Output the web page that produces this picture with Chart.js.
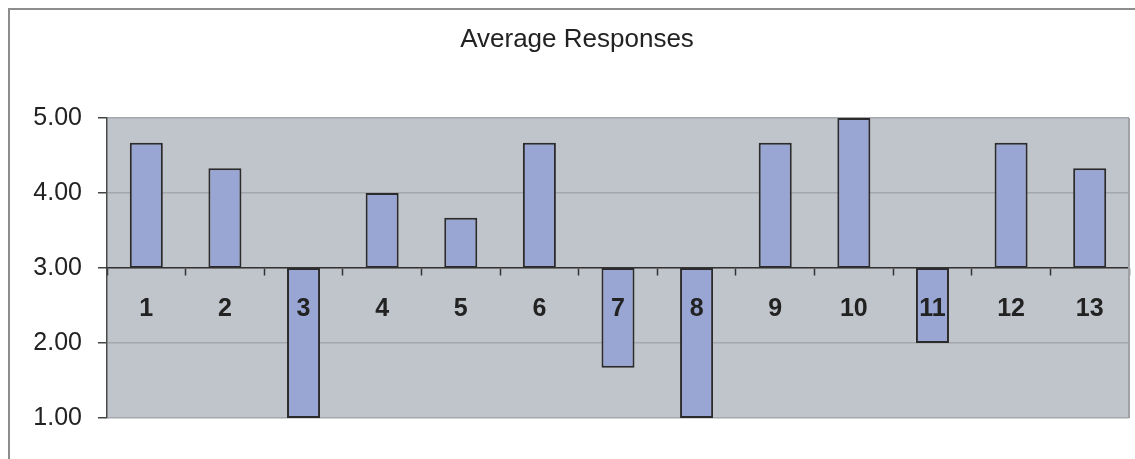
<!DOCTYPE html>
<html>
<head>
<meta charset="utf-8">
<script src="https://cdn.jsdelivr.net/npm/chart.js@4/dist/chart.umd.min.js"></script>
<style>
  html, body { margin: 0; padding: 0; background: #ffffff; }
  #wrap { width: 1135px; height: 459px; }
</style>
</head>
<body>
<div id="wrap"><canvas id="c" width="1135" height="459"></canvas></div>
<script>
// Question numbers and their average response scores
const questions = ['1', '2', '3', '4', '5', '6', '7', '8', '9', '10', '11', '12', '13'];
const averages = [4.67, 4.33, 1.00, 4.00, 3.67, 4.67, 1.67, 1.00, 4.67, 5.00, 2.00, 4.67, 4.33];
const midpoint = 3;
const yTicks = [1, 2, 3, 4, 5];
const chartTitle = 'Average Responses';

const FONT = '"Liberation Sans", Arial, sans-serif';

// Grey plot panel, outer frame lines and the heading
const framePlugin = {
  id: 'frame',
  beforeDraw(chart) {
    const { ctx, chartArea: a } = chart;
    ctx.save();
    ctx.fillStyle = '#ffffff';
    ctx.fillRect(0, 0, chart.width, chart.height);
    ctx.strokeStyle = '#8d8d8d';
    ctx.lineWidth = 2;
    ctx.beginPath();
    ctx.moveTo(9, chart.height);
    ctx.lineTo(9, 9);
    ctx.lineTo(chart.width, 9);
    ctx.stroke();
    ctx.fillStyle = '#c0c4cb';
    ctx.fillRect(a.left, a.top, a.right - a.left, a.bottom - a.top);

    ctx.fillStyle = '#222222';
    ctx.font = '26px ' + FONT;
    ctx.textAlign = 'center';
    ctx.textBaseline = 'middle';
    ctx.fillText(chartTitle, 577, 40);
    ctx.restore();
  },
  afterDraw(chart) {
    const { ctx, chartArea: a } = chart;
    ctx.save();
    ctx.strokeStyle = '#9ea1a6';
    ctx.lineWidth = 2;
    ctx.beginPath();
    ctx.moveTo(a.right, a.top);
    ctx.lineTo(a.right, a.bottom);
    ctx.stroke();
    ctx.restore();
  }
};

new Chart(document.getElementById('c'), {
  type: 'bar',
  data: {
    labels: questions,
    datasets: [{
      label: 'Average',
      data: averages.map(v => [midpoint, v]),
      backgroundColor: '#99a5d3',
      borderColor: '#2b2b2b',
      borderWidth: 2,
      borderSkipped: false,
      barPercentage: 0.42,
      categoryPercentage: 1.0
    }]
  },
  options: {
    responsive: false,
    animation: false,
    layout: { padding: { top: 118, right: 6, bottom: 41, left: 0 } },
    plugins: {
      legend: { display: false },
      tooltip: { enabled: false },
      title: { display: false }
    },
    scales: {
      x: {
        position: { y: midpoint },
        afterFit(scale) { scale.height = 0; },
        grid: {
          offset: true,
          drawOnChartArea: false,
          drawTicks: true,
          tickLength: 7,
          tickColor: '#333333',
          tickWidth: 1.5
        },
        border: { display: true, color: '#333333', width: 1.5, z: 1 },
        ticks: {
          z: 1,
          padding: 19,
          color: '#222222',
          font: { family: FONT, size: 25, weight: 'bold' }
        }
      },
      y: {
        min: yTicks[0],
        max: yTicks[yTicks.length - 1],
        afterFit(scale) { scale.width = 107; },
        afterBuildTicks(scale) { scale.ticks = yTicks.map(v => ({ value: v })); },
        grid: {
          color: '#a4a7ac',
          lineWidth: 1.5,
          tickLength: 9,
          tickColor: '#444444',
          tickWidth: 1.5
        },
        border: { display: true, color: '#4a4a4a', width: 1.5 },
        ticks: {
          padding: 16,
          color: '#222222',
          font: { family: FONT, size: 25 },
          callback: v => Number(v).toFixed(2)
        }
      }
    }
  },
  plugins: [framePlugin]
});
</script>
</body>
</html>
